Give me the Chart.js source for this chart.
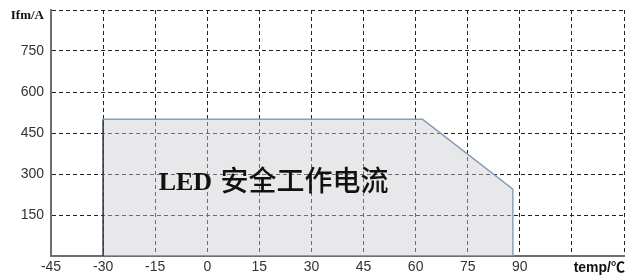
<!DOCTYPE html>
<html>
<head>
  <meta charset="UTF-8">
  <title>LED safe operating current</title>
  <script src="https://cdn.jsdelivr.net/npm/chart.js"></script>
  <style>
    html, body { margin: 0; padding: 0; background: #fff; }
  </style>
</head>
<body>
  <canvas id="curveChart" width="627" height="277"></canvas>
  <script>
    // derating curve
    const tempC = [-30, -30, 62, 88, 88];
    const currentA = [0, 500, 500, 245, 0];
    const xRange = [-45, 120];
    const yRange = [0, 900];
    const xLabel = 'temp/\u2103';
    const yLabel = 'Ifm/A';
    const areaLabel = ['LED', '\u5b89\u5168\u5de5\u4f5c\u7535\u6d41'];

    const labelsPlugin = {
      id: 'labels',
      afterDraw(chart) {
        const c = chart.ctx, xs = chart.scales.x, ys = chart.scales.y;
        c.save();
        c.fillStyle = '#111';
        // axis names
        c.font = 'bold 13px "Liberation Serif"';
        c.textAlign = 'right';
        c.textBaseline = 'middle';
        c.fillText(yLabel, 44, ys.getPixelForValue(900) + 6);
        c.font = 'bold 14px "Liberation Sans", "Noto Sans CJK SC"';
        c.fillText(xLabel, chart.width - 2, xs.bottom - 9);
        // label in the filled area
        c.textAlign = 'left';
        c.textBaseline = 'alphabetic';
        const x0 = xs.getPixelForValue(-14);
        const y0 = ys.getPixelForValue(241);
        c.font = 'bold 26px "Liberation Serif"';
        c.fillText(areaLabel[0], x0, y0);
        const w = c.measureText(areaLabel[0] + ' ').width;
        c.font = '500 28px "Noto Sans CJK SC"';
        c.fillText(areaLabel[1], x0 + w + 2, y0 + 1);
        c.restore();
      }
    };

    new Chart(document.getElementById('curveChart'), {
      type: 'line',
      data: {
        datasets: [{
          data: tempC.map((t, i) => ({ x: t, y: currentA[i] })),
          borderColor: '#8aa0ba',
          borderWidth: 1.5,
          segment: { borderColor: ctx => (ctx.p0DataIndex === 0 ? '#2a3440' : '#8aa0ba') },
          backgroundColor: 'rgba(205,205,210,0.45)',
          fill: 'origin',
          pointRadius: 0,
          tension: 0
        }]
      },
      options: {
        responsive: false,
        animation: false,
        events: [],
        layout: { padding: { top: 10, right: 2, left: 0, bottom: 0 } },
        plugins: { legend: { display: false }, tooltip: { enabled: false } },
        scales: {
          x: {
            type: 'linear',
            min: xRange[0], max: xRange[1],
            afterFit: s => { s.height = 21; },
            ticks: {
              stepSize: 15, autoSkip: false, maxRotation: 0, padding: 3,
              color: '#333',
              font: { family: 'Liberation Sans', size: 14 },
              callback: v => (v > 90 ? '' : v)
            },
            grid: { color: '#222', lineWidth: 1, drawTicks: false },
            border: { color: '#6e6e6e', width: 2, dash: [4, 3] }
          },
          y: {
            min: yRange[0], max: yRange[1],
            afterFit: s => { s.width = 51; s.paddingTop = 0; s.paddingBottom = 0; },
            ticks: {
              stepSize: 150, padding: 7,
              color: '#333',
              font: { family: 'Liberation Sans', size: 14 },
              callback: v => (v === 0 || v === 900 ? '' : v)
            },
            grid: { color: '#222', lineWidth: 1, drawTicks: false },
            border: { color: '#6e6e6e', width: 2, dash: [4, 3] }
          }
        }
      },
      plugins: [labelsPlugin]
    });
  </script>
</body>
</html>
